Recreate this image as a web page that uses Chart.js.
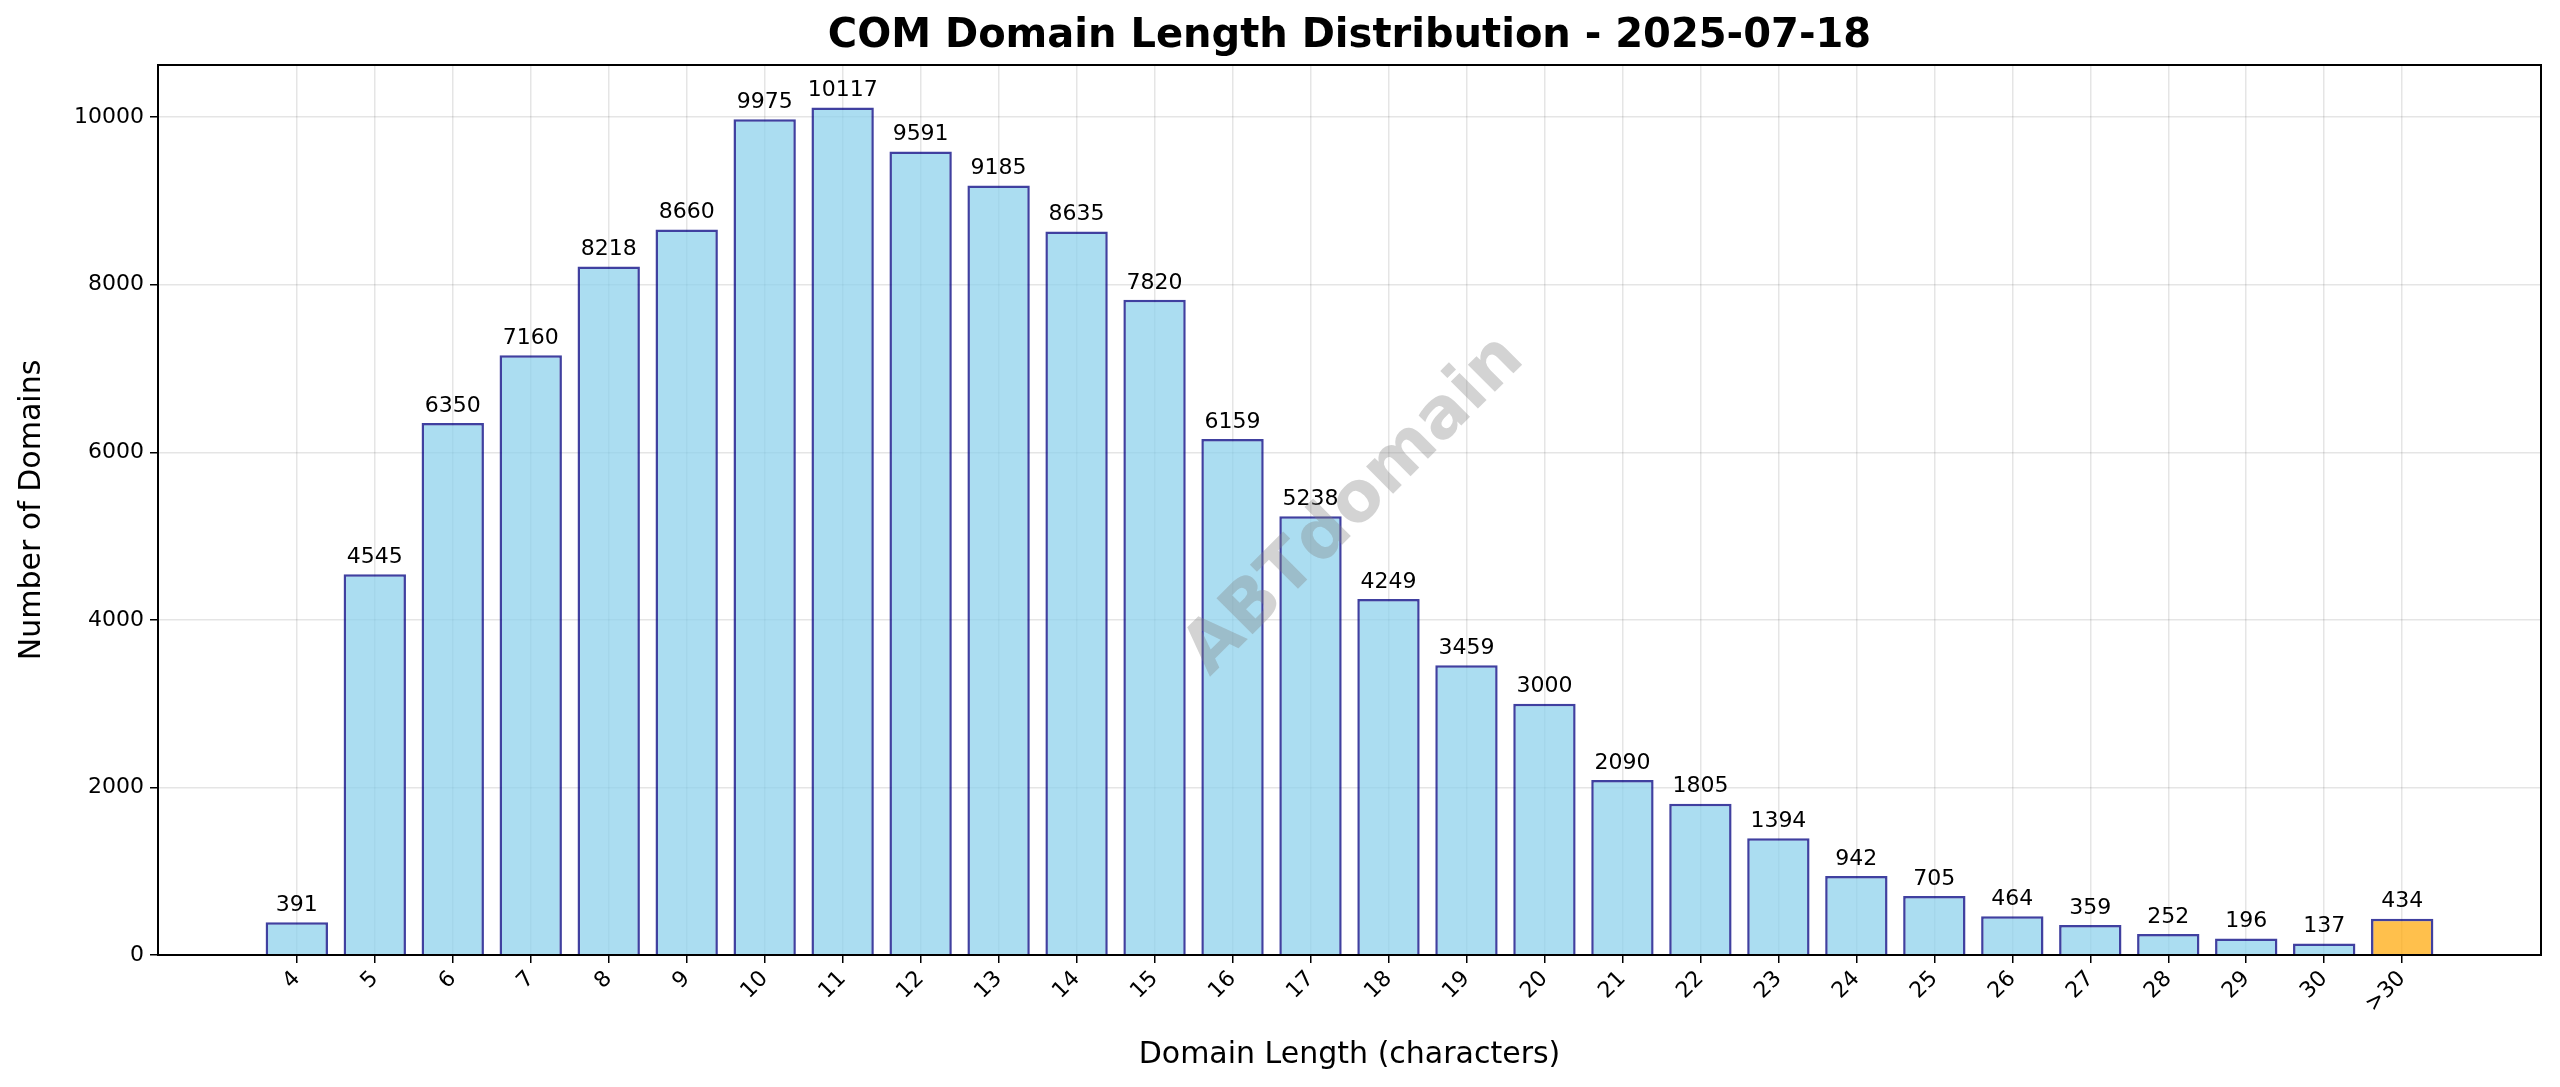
<!DOCTYPE html>
<html><head><meta charset="utf-8">
<script src="https://cdn.jsdelivr.net/npm/chart.js@4/dist/chart.umd.min.js"></script>
<style>html,body{margin:0;padding:0;background:#fff}#wrap{width:2560px;height:1087px}</style>
</head><body><div id="wrap"><canvas id="c"></canvas></div>
<script>
const categories = ["4","5","6","7","8","9","10","11","12","13","14","15","16","17","18","19","20","21","22","23","24","25","26","27","28","29","30",">30"];
const counts = [391,4545,6350,7160,8218,8660,9975,10117,9591,9185,8635,7820,6159,5238,4249,3459,3000,2090,1805,1394,942,705,464,359,252,196,137,434];
const yTicks = [0,2000,4000,6000,8000,10000];
const titleText = "COM Domain Length Distribution - 2025-07-18";
const FONT = "'DejaVu Sans', sans-serif";

const fills = categories.map(c => c === ">30" ? "rgba(255,165,0,0.7)" : "rgba(135,206,235,0.7)");
const edges = categories.map(() => "rgba(0,0,128,0.75)");

const deco = {
  id: 'deco',
  afterDatasetsDraw(chart) {
    const {ctx, chartArea: a, scales: {x, y}} = chart;
    ctx.save();
    ctx.font = "22px " + FONT; ctx.fillStyle = "#000"; ctx.textAlign = "center"; ctx.textBaseline = "bottom";
    counts.forEach((v, i) => ctx.fillText(String(v), x.getPixelForValue(i), y.getPixelForValue(v) - 6));
    ctx.translate(1355, 506); ctx.rotate(-Math.PI/4);
    ctx.font = "bold 70px " + FONT; ctx.fillStyle = "rgba(128,128,128,0.35)"; ctx.textBaseline = "middle";
    ctx.fillText("ABTdomain", 0, 0);
    ctx.restore();
    ctx.save();
    ctx.strokeStyle = "#000"; ctx.lineWidth = 2;
    ctx.strokeRect(a.left, a.top, a.right - a.left, a.bottom - a.top);
    ctx.font = "bold 40px " + FONT; ctx.fillStyle = "#000"; ctx.textAlign = "center"; ctx.textBaseline = "middle";
    ctx.fillText(titleText, (a.left + a.right) / 2, 37);
    ctx.restore();
  }
};

new Chart(document.getElementById('c'), {
  type: 'bar',
  data: { datasets: [{ data: counts.map((v, i) => ({x: i, y: v})), backgroundColor: fills, borderColor: edges, borderWidth: 2.5, barPercentage: 0.8, categoryPercentage: 1 }] },
  options: {
    responsive: true, maintainAspectRatio: false, animation: false,
    devicePixelRatio: 1,
    layout: { padding: { top: 65, right: 19, left: 10, bottom: 10 } },
    plugins: { legend: { display: false }, tooltip: { enabled: false } },
    scales: {
      x: {
        type: 'linear', min: -1.78, max: 28.78, offset: false,
        afterBuildTicks(s) { s.ticks = categories.map((_, i) => ({value: i})); },
        afterFit(s) { s.height = 1087 - 955 - 10; },
        ticks: { autoSkip: false, maxRotation: 45, minRotation: 45, font: {family: FONT, size: 22}, color: "#000",
          callback: (v) => categories[v] },
        grid: { offset: false, color: "rgba(0,0,0,0.1)", lineWidth: 1.5, tickColor: "#000", tickLength: 8 },
        border: { display: false },
        title: { display: true, text: "Domain Length (characters)", font: {family: FONT, size: 30}, color: "#000", padding: {top: 8} }
      },
      y: {
        min: 0, max: 10623,
        afterBuildTicks(s) { s.ticks = yTicks.map(v => ({value: v})); },
        afterFit(s) { s.width = 158 - 10; },
        ticks: { font: {family: FONT, size: 22}, color: "#000", padding: 6, callback: (v) => String(v) },
        grid: { color: "rgba(0,0,0,0.1)", lineWidth: 1.5, tickColor: "#000", tickLength: 8 },
        border: { display: false },
        title: { display: true, text: "Number of Domains", font: {family: FONT, size: 30}, color: "#000", padding: {bottom: 8} }
      }
    }
  },
  plugins: [deco]
});
</script></body></html>
